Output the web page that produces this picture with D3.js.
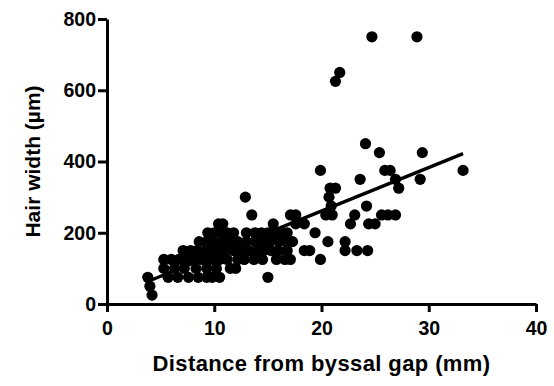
<!DOCTYPE html>
<html>
<head>
<meta charset="utf-8">
<script src="https://cdn.jsdelivr.net/npm/d3@7"></script>
<style>
    body { margin: 0; background: #fff; }
    .axis path, .axis line { stroke: #000; stroke-width: 3; }
    .axis text { font-family: "Liberation Sans", Arial, sans-serif; font-weight: bold; font-size: 19.5px; fill: #000; }
    .title { font-family: "Liberation Sans", Arial, sans-serif; font-weight: bold; fill: #000; }
</style>
</head>
<body>
<div id="chart"></div>
<script>
// distance from byssal gap (mm) and hair width (um)
const distance = [
    4.2, 4.0, 3.8,
    5.7, 6.6, 7.6, 8.5, 9.3, 9.8, 10.5, 15.0,
    5.3, 6.3, 7.2, 8.3, 9.3, 10.2, 11.5, 12.0,
    5.3, 6.0, 6.7, 7.5, 8.2, 8.9, 9.0, 9.8, 10.5, 11.2, 12.2, 12.8, 13.7, 14.5, 15.8, 16.6, 17.1, 19.9,
    7.1, 7.8, 8.4, 9.2, 9.8, 10.4, 11.0, 11.8, 12.5, 13.2, 14.0, 14.6, 15.3, 16.0, 16.8, 18.4, 18.9, 22.2, 23.3, 24.3,
    8.6, 9.3, 10.0, 10.8, 11.5, 12.2, 13.0, 13.8, 14.5, 15.2, 16.0, 16.7, 17.3, 20.6, 22.2,
    9.4, 10.0, 10.6, 11.2, 11.8, 13.0, 13.8, 14.4, 15.0, 15.6, 16.2, 16.8, 19.4,
    10.4, 10.8, 15.5, 17.6, 18.4, 22.7, 24.4, 25.0,
    13.5, 17.1, 17.6, 20.4, 21.0, 23.1, 25.6, 26.2, 26.9,
    20.9, 24.2,
    12.9, 20.7,
    20.8, 21.3, 27.2,
    23.6, 26.9, 29.2,
    19.9, 25.9, 26.4, 33.2,
    25.4, 29.4,
    24.1,
    21.3,
    21.7,
    24.7, 28.9
];
const hairWidth = [
    25, 50, 75,
    75, 75, 75, 75, 75, 75, 75, 75,
    100, 100, 100, 100, 100, 100, 100, 100,
    125, 125, 125, 125, 125, 125, 125, 125, 125, 125, 125, 125, 125, 125, 125, 125, 125, 125,
    150, 150, 150, 150, 150, 150, 150, 150, 150, 150, 150, 150, 150, 150, 150, 150, 150, 150, 150, 150,
    175, 175, 175, 175, 175, 175, 175, 175, 175, 175, 175, 175, 175, 175, 175,
    200, 200, 200, 200, 200, 200, 200, 200, 200, 200, 200, 200, 200,
    225, 225, 225, 225, 225, 225, 225, 225,
    250, 250, 250, 250, 250, 250, 250, 250, 250,
    275, 275,
    300, 300,
    325, 325, 325,
    350, 350, 350,
    375, 375, 375, 375,
    425, 425,
    450,
    625,
    650,
    750, 750
];

// linear fit as drawn
const fitRange = [3.8, 33.2];
const fitSlope = 12.2;
const fitIntercept = 17;

const xTicks = [0, 10, 20, 30, 40];
const yTicks = [0, 200, 400, 600, 800];

const width = 554, height = 386;
const margin = {top: 19, right: 18, bottom: 82, left: 107};

const svg = d3.select('#chart').append('svg')
    .attr('width', width)
    .attr('height', height);

const xScale = d3.scaleLinear()
    .domain([0, 40])
    .range([margin.left, width - margin.right]);
const yScale = d3.scaleLinear()
    .domain([0, 800])
    .range([height - margin.bottom, margin.top]);

const xAxis = d3.axisBottom(xScale).tickValues(xTicks).tickSize(8).tickSizeOuter(0).tickPadding(9);
const yAxis = d3.axisLeft(yScale).tickValues(yTicks).tickSize(9).tickSizeOuter(0).tickPadding(2);

svg.append('g')
    .attr('class', 'axis x-axis')
    .attr('transform', `translate(0, ${yScale(0)})`)
    .call(xAxis);
svg.append('g')
    .attr('class', 'axis y-axis')
    .attr('transform', `translate(${xScale(0)}, 0)`)
    .call(yAxis);

const points = distance.map((d, i) => ({x: d, y: hairWidth[i]}));

svg.append('g')
    .selectAll('circle')
    .data(points)
    .join('circle')
        .attr('cx', d => xScale(d.x))
        .attr('cy', d => yScale(d.y))
        .attr('r', 5.6)
        .attr('fill', '#000');

const line = d3.line()
    .x(d => xScale(d))
    .y(d => yScale(fitIntercept + fitSlope * d));

svg.append('path')
    .datum(fitRange)
    .attr('d', line)
    .attr('fill', 'none')
    .attr('stroke', '#000')
    .attr('stroke-width', 3.3);

svg.append('text')
    .attr('class', 'title')
    .attr('x', xScale(20))
    .attr('y', 371)
    .attr('text-anchor', 'middle')
    .style('font-size', '22px')
    .style('letter-spacing', '0.4px')
    .text('Distance from byssal gap (mm)');

svg.append('text')
    .attr('class', 'title')
    .attr('transform', `translate(40, ${yScale(400)}) rotate(-90)`)
    .attr('text-anchor', 'middle')
    .style('font-size', '21px')
    .text('Hair width (µm)');
</script>
</body>
</html>
